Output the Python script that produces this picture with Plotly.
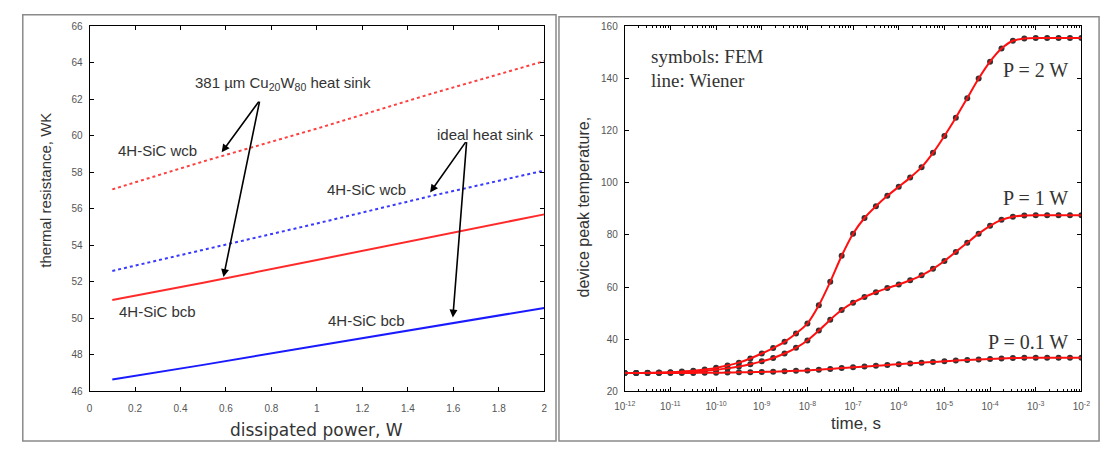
import plotly.graph_objects as go

# ---------------- left panel data ----------------
POWER_W = [0.1, 0.5, 1.0, 1.5, 2.0]
R_CUW_WCB = [57.07, 58.6, 60.4, 62.3, 64.1]     # red dotted
R_IDEAL_WCB = [52.6, 53.75, 55.2, 56.7, 58.1]   # blue dotted
R_CUW_BCB = [51.0, 51.95, 53.2, 54.45, 55.7]    # red solid
R_IDEAL_BCB = [46.65, 47.45, 48.5, 49.55, 50.57]  # blue solid

# ---------------- right panel data ----------------
LOG_TIME = [-12.0, -11.75, -11.5, -11.25, -11.0, -10.75, -10.5, -10.25, -10.0, -9.75,
            -9.5, -9.25, -9.0, -8.75, -8.5, -8.25, -8.0, -7.75, -7.5, -7.25,
            -7.0, -6.75, -6.5, -6.25, -6.0, -5.75, -5.5, -5.25, -5.0, -4.75,
            -4.5, -4.25, -4.0, -3.75, -3.5, -3.25, -3.0, -2.75, -2.5, -2.25, -2.0]
T_P2 = [27.0, 27.0, 27.1, 27.2, 27.3, 27.6, 27.9, 28.4, 29.0, 29.9,
        31.0, 32.6, 34.5, 36.6, 39.0, 42.2, 46.0, 53.0, 62.0, 72.0,
        80.5, 86.5, 91.0, 95.0, 98.5, 102.0, 106.0, 111.5, 118.0, 125.0,
        132.5, 140.0, 146.5, 151.5, 154.5, 155.4, 155.6, 155.6, 155.6, 155.6, 155.6]
T_P1 = [27.0, 27.0, 27.0, 27.1, 27.2, 27.4, 27.6, 27.9, 28.3, 28.8,
        29.5, 30.4, 31.5, 32.8, 34.5, 36.7, 39.5, 43.3, 47.5, 51.2,
        54.0, 56.2, 58.0, 59.6, 61.0, 62.6, 64.5, 67.0, 70.0, 73.5,
        77.0, 80.5, 83.5, 85.8, 87.0, 87.5, 87.6, 87.6, 87.6, 87.6, 87.6]
T_P01 = [27.0, 27.0, 27.0, 27.0, 27.0, 27.0, 27.05, 27.1, 27.1, 27.2,
         27.3, 27.35, 27.4, 27.55, 27.7, 27.85, 28.0, 28.3, 28.6, 28.9,
         29.2, 29.5, 29.8, 30.1, 30.4, 30.7, 31.0, 31.25, 31.5, 31.8,
         32.0, 32.2, 32.4, 32.6, 32.75, 32.85, 32.9, 32.9, 32.9, 32.9, 32.9]
TIME_TICK_EXP = [-12, -11, -10, -9, -8, -7, -6, -5, -4, -3, -2]
TIME_TICK_TEXT = ["10<sup>-12</sup>", "10<sup>-11</sup>", "10<sup>-10</sup>", "10<sup>-9</sup>",
                  "10<sup>-8</sup>", "10<sup>-7</sup>", "10<sup>-6</sup>", "10<sup>-5</sup>",
                  "10<sup>-4</sup>", "10<sup>-3</sup>", "10<sup>-2</sup>"]

time_s = [10 ** e for e in LOG_TIME]
tick_vals = [10 ** e for e in TIME_TICK_EXP]

W, H = 1112, 450
def px(x):
    return x / W
def py(y):
    return 1 - y / H

fig = go.Figure()

# left panel lines
fig.add_trace(go.Scatter(x=POWER_W, y=R_CUW_WCB, mode="lines", xaxis="x", yaxis="y",
                         line=dict(color="#ff4040", width=2, dash="dot")))
fig.add_trace(go.Scatter(x=POWER_W, y=R_IDEAL_WCB, mode="lines", xaxis="x", yaxis="y",
                         line=dict(color="#3a3aff", width=2, dash="dot")))
fig.add_trace(go.Scatter(x=POWER_W, y=R_CUW_BCB, mode="lines", xaxis="x", yaxis="y",
                         line=dict(color="#ff2a2a", width=2)))
fig.add_trace(go.Scatter(x=POWER_W, y=R_IDEAL_BCB, mode="lines", xaxis="x", yaxis="y",
                         line=dict(color="#1a1aff", width=2)))

# right panel: FEM symbols then Wiener line on top
for series in (T_P2, T_P1, T_P01):
    fig.add_trace(go.Scatter(x=time_s, y=series, mode="markers", xaxis="x2", yaxis="y2",
                             marker=dict(color="#333333", size=6)))
for series in (T_P2, T_P1, T_P01):
    fig.add_trace(go.Scatter(x=time_s, y=series, mode="lines", xaxis="x2", yaxis="y2",
                             line=dict(color="#ff1010", width=2, shape="spline", smoothing=0.6)))

tickfont = dict(family="Arial, Liberation Sans, sans-serif", size=10, color="#555555")
axis_common = dict(showline=True, linecolor="black", linewidth=1, mirror="ticks",
                   ticks="inside", ticklen=4, tickcolor="black", tickfont=tickfont,
                   showgrid=False, zeroline=False)

fig.update_layout(
    width=W, height=H,
    margin=dict(l=0, r=0, t=0, b=0),
    paper_bgcolor="white", plot_bgcolor="white",
    showlegend=False,
    xaxis=dict(domain=[px(80), px(543)], anchor="y", range=[0, 2], dtick=0.2, tick0=0,
               ticklabelstandoff=8, **axis_common),
    yaxis=dict(domain=[py(396), py(22)], anchor="x", range=[46, 66], dtick=2, tick0=46,
               ticklabelstandoff=4, **axis_common),
    xaxis2=dict(domain=[px(625), px(1090)], anchor="y2", type="log", range=[-12, -2],
                tickvals=tick_vals, ticktext=TIME_TICK_TEXT, ticklabelstandoff=6,
                minor=dict(ticks="inside", ticklen=2, tickcolor="black", dtick="D1"),
                **axis_common),
    yaxis2=dict(domain=[py(396), py(22)], anchor="x2", range=[20, 160], dtick=20, tick0=20,
                ticklabelstandoff=4, **axis_common),
)

ann = []
sans = "Arial, Liberation Sans, sans-serif"
serif = "Liberation Serif, Times New Roman, serif"
txt = dict(family=sans, size=15, color="#333333")

# left text labels
for (x, y, t) in [(0.85, 62.85, "381 µm Cu<sub>20</sub>W<sub>80</sub> heat sink"),
                  (1.74, 60.1, "ideal heat sink"),
                  (0.30, 59.2, "4H-SiC wcb"),
                  (1.22, 57.07, "4H-SiC wcb"),
                  (0.30, 50.4, "4H-SiC bcb"),
                  (1.22, 49.86, "4H-SiC bcb")]:
    ann.append(dict(x=x, y=y, xref="x", yref="y", text=t, showarrow=False, font=txt,
                    xanchor="center", yanchor="middle"))

# arrows (head at x,y ; tail at ax,ay)
for (hx, hy, tx, ty) in [(0.581, 59.1, 0.749, 61.96),
                         (0.589, 52.26, 0.749, 61.96),
                         (1.498, 56.9, 1.659, 59.74),
                         (1.598, 50.04, 1.659, 59.74)]:
    ann.append(dict(x=hx, y=hy, ax=tx, ay=ty, xref="x", yref="y", axref="x", ayref="y",
                    text="", showarrow=True, arrowhead=2, arrowsize=1, arrowwidth=1.6,
                    arrowcolor="black"))

def paper_text(x, y, text, font, xanchor="center", angle=0):
    ann.append(dict(x=px(x), y=py(y), xref="paper", yref="paper", text=text,
                    showarrow=False, xanchor=xanchor, yanchor="middle", textangle=angle,
                    font=font))

# axis titles
paper_text(311, 436, "dissipated power, W", dict(family="DejaVu Sans, sans-serif", size=17, color="#333333"))
paper_text(35, 190, "thermal resistance, WK", dict(family=sans, size=15, color="#333333"), angle=-90)
paper_text(860, 429, "time, s", dict(family=sans, size=17, color="#333333"))
paper_text(583, 207, "device peak temperature,", dict(family=sans, size=16, color="#333333"), angle=-90)

# right texts
paper_text(650, 53, "symbols: FEM", dict(family=serif, size=19, color="#333333"), xanchor="left")
paper_text(650, 77, "line: Wiener", dict(family=serif, size=19, color="#333333"), xanchor="left")
for (y, t) in [(67, "P = 2 W"), (198, "P = 1 W"), (345, "P = 0.1 W")]:
    paper_text(1078, y, t, dict(family=serif, size=20, color="#333333"), xanchor="right")

fig.update_layout(annotations=ann)

# panel frames
fig.add_shape(type="rect", xref="paper", yref="paper", x0=px(12), x1=px(555), y0=py(447), y1=py(10),
              line=dict(color="#8a8a8a", width=1.5))
fig.add_shape(type="rect", xref="paper", yref="paper", x0=px(558), x1=px(1108), y0=py(447), y1=py(12),
              line=dict(color="#8a8a8a", width=1.5))

fig.write_html("out.html")
